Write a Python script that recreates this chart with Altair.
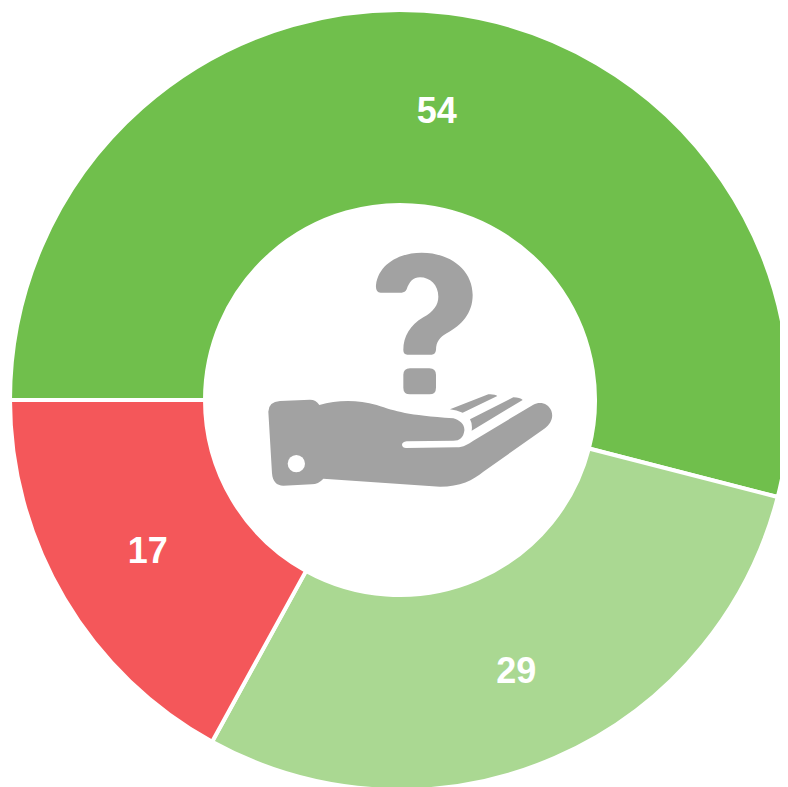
import math
import altair as alt
import pandas as pd

categories = ["A", "B", "C"]
values = [54, 29, 17]
order = [0, 1, 2]
colors = ["#70BF4C", "#AAD892", "#F4575A"]
ICON_GREY = "#A2A2A2"

# Icon outlines, in units of 1/3 px from the point (250, 240) of the picture
question_hook = ("M378 135C385 75 445 38 515 38C600 38 668 90 668 165C668 220 635 255 590 280"
                 "C570 292 558 305 558 330Q556 344 545 344L472 344Q460 344 460 330"
                 "C460 290 480 255 520 232C550 215 565 195 565 170C565 135 540 112 510 112"
                 "C490 112 478 125 470 148Q465 158 455 158L392 158Q376 158 378 135Z")
question_dot = "M480 385L538 385Q558 385 558 405L558 443Q558 463 538 463L480 463Q460 463 460 443L460 405Q460 385 480 385Z"
hand = ("M55 515Q56 485 90 483L180 479Q198 479 208 495C260 480 320 478 380 495C440 515 470 525 610 535"
        "C630 540 645 555 643 572C640 592 630 602 610 602L470 604Q456 606 456 615Q458 625 470 624"
        "L620 622C640 622 655 612 670 602L850 494C870 483 895 490 904 512C912 535 900 552 885 565"
        "L700 695C670 720 630 740 570 740L220 716Q205 733 185 733L100 737C80 737 68 725 66 700L55 515Z")
finger_a = "M600 508L715 463Q735 462 742 468L638 518Q620 510 600 508Z"
finger_b = "M660 538L790 472Q810 472 818 480L665 572Q668 552 660 538Z"
icon_shapes = [question_hook, question_dot, hand, finger_a, finger_b]

df = pd.DataFrame({"category": categories, "value": values, "order": order})

ox = alt.value(392)
oy = alt.value(392)
theta = alt.Theta("value:Q", stack=True,
                  scale=alt.Scale(range=[-math.pi / 2, 3 * math.pi / 2]))
color = alt.Color("category:N", legend=None,
                  scale=alt.Scale(domain=categories, range=colors))

ring = alt.Chart(df).mark_arc(radius=390, radius2=195, stroke="white", strokeWidth=4).encode(
    theta=theta, color=color, order=alt.Order("order:Q"), x=ox, y=oy)

labels = alt.Chart(df).mark_text(radius=293, dy=3, font="Liberation Sans", fontWeight="bold",
                                 fontSize=36, color="white").encode(
    theta=theta, text=alt.Text("value:Q"), order=alt.Order("order:Q"), x=ox, y=oy)

anchor = pd.DataFrame({"a": [0]})
icons = [
    alt.Chart(anchor).mark_point(filled=True, opacity=1, strokeWidth=0).encode(
        x=alt.value(250 - 8), y=alt.value(240 - 8),
        shape=alt.value(p), fill=alt.value(ICON_GREY), size=alt.value(4 / 9))
    for p in icon_shapes
]
hole = alt.Chart(anchor).mark_point(filled=True, opacity=1, strokeWidth=0, shape="circle").encode(
    x=alt.value(250 + 139 / 3 - 8), y=alt.value(240 + 671 / 3 - 8),
    fill=alt.value("white"), size=alt.value(300))

chart = alt.layer(ring, labels, *icons, hole).properties(
    width=772, height=780, padding=0,
    autosize=alt.AutoSizeParams(type="none"),
    background="white",
).configure_view(stroke=None)

chart.save("out.html", embed_options={"renderer": "svg", "actions": False})
